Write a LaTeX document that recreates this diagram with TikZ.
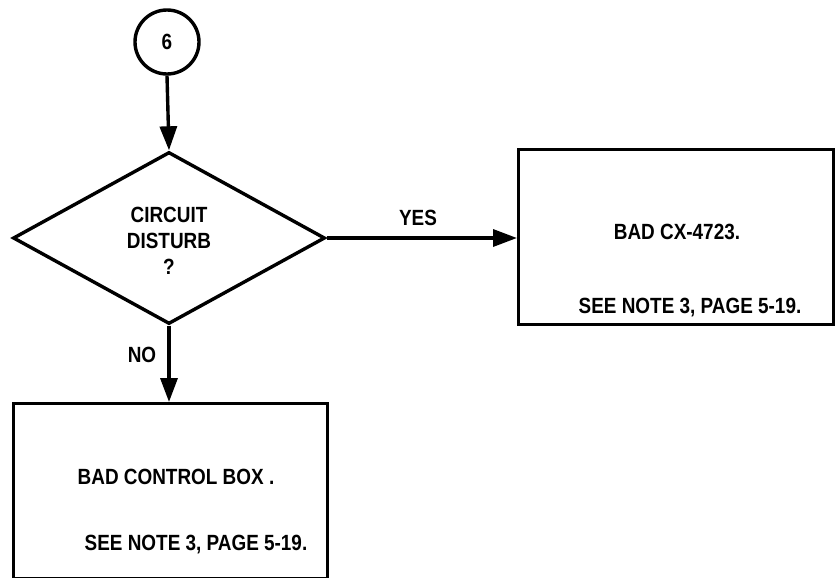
\documentclass[tikz,border=0pt]{standalone}
\usepackage{fontspec}
\setmainfont{Liberation Sans}[FakeStretch=0.86]
\usetikzlibrary{shapes.geometric,arrows.meta}
\tikzset{
  every node/.style={font=\bfseries\fontsize{22pt}{26pt}\selectfont},
  ln/.style={line width=3.4pt},
  flow/.style={ln,-{Triangle[length=24pt,width=17pt]}},
  boxx/.style={draw,ln,rectangle,inner sep=0pt,anchor=north west},
  txt/.style={inner sep=0pt,align=center}
}
\begin{document}
\begin{tikzpicture}[x=1pt,y=-1pt]
\useasboundingbox (0,0) rectangle (835,578);
\node[draw,ln,circle,minimum size=64pt,inner sep=0pt] (c6) at (167,42) {6};
\node[draw,ln,diamond,minimum width=312pt,minimum height=172pt,inner sep=0pt,txt] (d) at (169,238) {};
\node[txt,text depth=0pt] (dt) at (169,241) {CIRCUIT\\DISTURB\\?};
\node[boxx,minimum width=315pt,minimum height=175pt] (r) at (517,148) {};
\node[txt] (rt1) at (677,232) {BAD CX-4723.};
\node[txt] (rt2) at (690,308) {SEE NOTE 3, PAGE 5-19.};
\node[boxx,minimum width=314pt,minimum height=175pt] (l) at (12,402) {};
\node[txt] (lt1) at (176,477) {BAD CONTROL BOX .};
\node[txt] (lt2) at (196,545) {SEE NOTE 3, PAGE 5-19.};
\draw[flow] (c6.south) -- (d.north);
\draw[flow] (d.east) -- (d.east -| r.west) node[txt,pos=0.48,yshift=20pt] (yes) {YES};
\draw[flow] (d.south) -- (d.south |- l.north) node[txt,pos=0.38,xshift=-27pt] (no) {NO};
\end{tikzpicture}
\end{document}
